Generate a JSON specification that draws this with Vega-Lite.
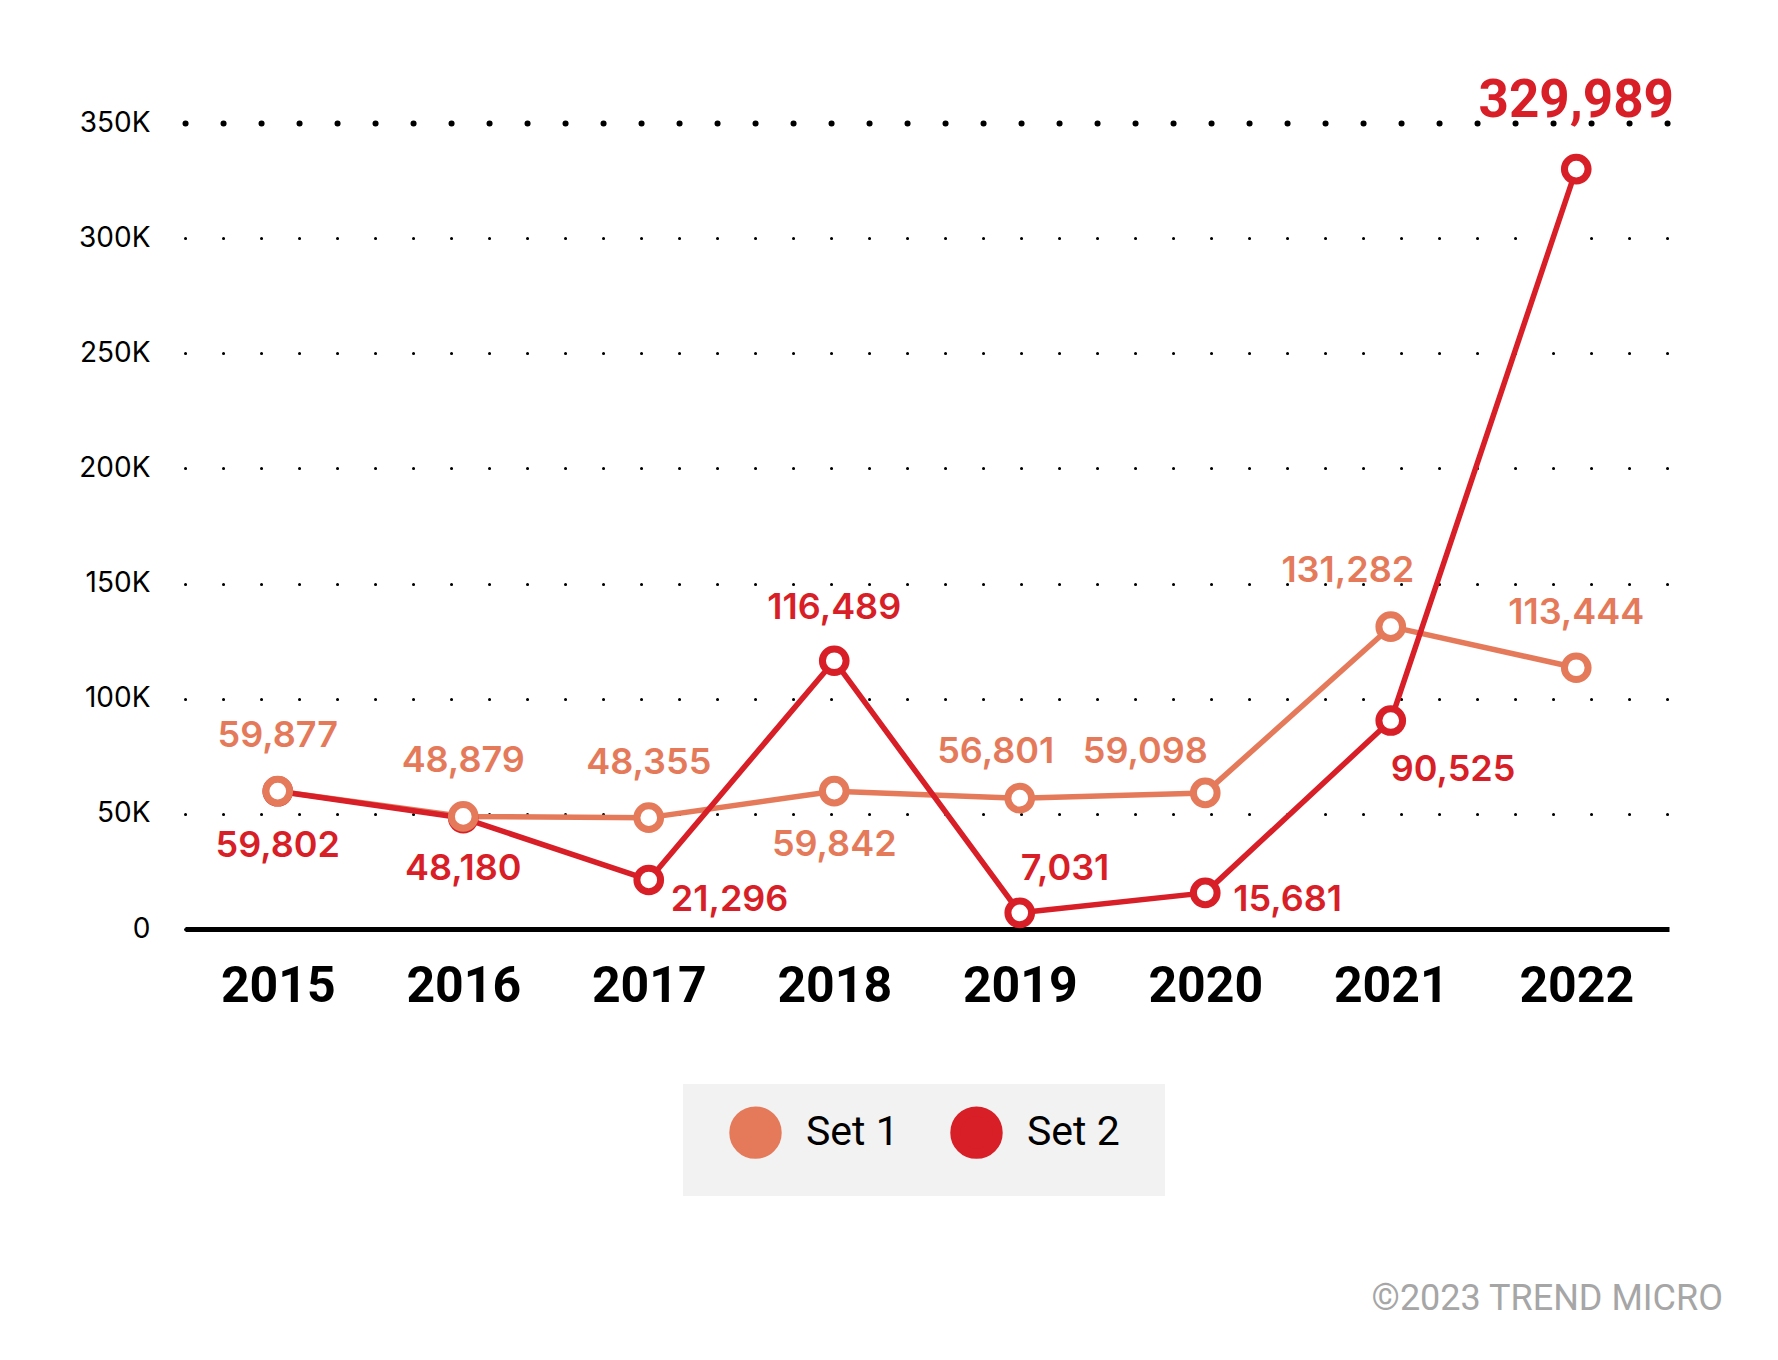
{
  "$schema": "https://vega.github.io/schema/vega-lite/v6.json",
  "autosize": {"type": "none"},
  "padding": {"left": 185, "top": 123, "right": 109, "bottom": 431},
  "width": 1484,
  "height": 806,
  "background": "white",
  "config": {"view": {"stroke": null}},
  "title": {
    "text": "©2023 TREND MICRO",
    "orient": "bottom",
    "anchor": "end",
    "frame": "group",
    "font": "Roboto",
    "fontSize": 36,
    "fontWeight": "normal",
    "color": "#A6A6A6",
    "offset": 86,
    "dx": 54
  },
  "data": {
    "values": [
      {"year": "2015", "series": "Set 1", "value": 59877},
      {"year": "2016", "series": "Set 1", "value": 48879},
      {"year": "2017", "series": "Set 1", "value": 48355},
      {"year": "2018", "series": "Set 1", "value": 59842},
      {"year": "2019", "series": "Set 1", "value": 56801},
      {"year": "2020", "series": "Set 1", "value": 59098},
      {"year": "2021", "series": "Set 1", "value": 131282},
      {"year": "2022", "series": "Set 1", "value": 113444},
      {"year": "2015", "series": "Set 2", "value": 59802},
      {"year": "2016", "series": "Set 2", "value": 48180},
      {"year": "2017", "series": "Set 2", "value": 21296},
      {"year": "2018", "series": "Set 2", "value": 116489},
      {"year": "2019", "series": "Set 2", "value": 7031},
      {"year": "2020", "series": "Set 2", "value": 15681},
      {"year": "2021", "series": "Set 2", "value": 90525},
      {"year": "2022", "series": "Set 2", "value": 329989}
    ]
  },
  "encoding": {
    "x": {
      "field": "year",
      "type": "ordinal",
      "scale": {"type": "point", "padding": 0.5},
      "axis": {
        "title": null,
        "labelAngle": 0,
        "labelFont": "Roboto",
        "labelFontSize": 50,
        "labelFontWeight": "bold",
        "labelColor": "#000000",
        "labelBaseline": "alphabetic",
        "labelPadding": 72,
        "ticks": false,
        "domain": true,
        "domainColor": "#000000",
        "domainWidth": 5,
        "grid": false
      }
    },
    "y": {
      "field": "value",
      "type": "quantitative",
      "scale": {"domain": [0, 350000], "nice": false, "zero": true},
      "axis": {
        "title": null,
        "values": [0, 50000, 100000, 150000, 200000, 250000, 300000, 350000],
        "labelExpr": "datum.value == 0 ? '0' : (datum.value / 1000) + 'K'",
        "labelFont": "Inter",
        "labelFontSize": 28,
        "labelColor": "#000000",
        "labelPadding": 35,
        "ticks": false,
        "domain": false,
        "grid": true,
        "gridColor": "#000000",
        "gridDash": [0.1, 37.9],
        "gridCap": "round",
        "gridWidth": {"condition": {"test": "datum.value == 350000", "value": 6}, "value": 3}
      }
    },
    "stroke": {
      "field": "series",
      "type": "nominal",
      "scale": {"domain": ["Set 1", "Set 2"], "range": ["#E57A5B", "#D81E26"]},
      "legend": {
        "title": "\u00a0",
        "titleOrient": "right",
        "titlePadding": 23,
        "titleFontSize": 10,
        "orient": "none",
        "legendX": 498,
        "legendY": 961,
        "direction": "horizontal",
        "fillColor": "#F2F2F2",
        "padding": 22,
        "columnPadding": 27,
        "symbolType": "circle",
        "symbolSize": 1800,
        "symbolStrokeWidth": 10,
        "symbolFillColor": "#FFFFFF",
        "symbolOffset": 24,
        "labelOffset": 24,
        "labelFont": "Roboto",
        "labelFontSize": 41,
        "labelColor": "#000000"
      }
    }
  },
  "layer": [
    {
      "mark": {"type": "line", "strokeWidth": 5.5, "strokeJoin": "round"}
    },
    {
      "transform": [{"filter": "datum.series == 'Set 2'"}],
      "mark": {"type": "point", "shape": "circle", "size": 560, "strokeWidth": 7, "fill": "#FFFFFF", "filled": false, "opacity": 1}
    },
    {
      "transform": [{"filter": "datum.series == 'Set 1'"}],
      "mark": {"type": "point", "shape": "circle", "size": 560, "strokeWidth": 7, "fill": "#FFFFFF", "filled": false, "opacity": 1}
    },
    {
      "transform": [{"filter": "datum.series == 'Set 1' && indexof(['2015','2016','2017','2022'], datum.year) >= 0"}],
      "mark": {"type": "text", "font": "Inter", "fontSize": 36, "fontWeight": 600, "align": "center", "baseline": "middle", "dy": -55},
      "encoding": {"text": {"field": "value", "type": "quantitative", "format": ","}, "stroke": null, "color": {"field": "series", "type": "nominal", "scale": {"domain": ["Set 1", "Set 2"], "range": ["#E57A5B", "#D81E26"]}, "legend": null}}
    },
    {
      "transform": [{"filter": "datum.series == 'Set 1' && datum.year == '2018'"}],
      "mark": {"type": "text", "font": "Inter", "fontSize": 36, "fontWeight": 600, "align": "center", "baseline": "middle", "dy": 54},
      "encoding": {"text": {"field": "value", "type": "quantitative", "format": ","}, "stroke": null, "color": {"field": "series", "type": "nominal", "scale": {"domain": ["Set 1", "Set 2"], "range": ["#E57A5B", "#D81E26"]}, "legend": null}}
    },
    {
      "transform": [{"filter": "datum.series == 'Set 1' && datum.year == '2019'"}],
      "mark": {"type": "text", "font": "Inter", "fontSize": 36, "fontWeight": 600, "align": "center", "baseline": "middle", "dx": -24, "dy": -46},
      "encoding": {"text": {"field": "value", "type": "quantitative", "format": ","}, "stroke": null, "color": {"field": "series", "type": "nominal", "scale": {"domain": ["Set 1", "Set 2"], "range": ["#E57A5B", "#D81E26"]}, "legend": null}}
    },
    {
      "transform": [{"filter": "datum.series == 'Set 1' && datum.year == '2020'"}],
      "mark": {"type": "text", "font": "Inter", "fontSize": 36, "fontWeight": 600, "align": "center", "baseline": "middle", "dx": -60, "dy": -41},
      "encoding": {"text": {"field": "value", "type": "quantitative", "format": ","}, "stroke": null, "color": {"field": "series", "type": "nominal", "scale": {"domain": ["Set 1", "Set 2"], "range": ["#E57A5B", "#D81E26"]}, "legend": null}}
    },
    {
      "transform": [{"filter": "datum.series == 'Set 1' && datum.year == '2021'"}],
      "mark": {"type": "text", "font": "Inter", "fontSize": 36, "fontWeight": 600, "align": "center", "baseline": "middle", "dx": -43, "dy": -56},
      "encoding": {"text": {"field": "value", "type": "quantitative", "format": ","}, "stroke": null, "color": {"field": "series", "type": "nominal", "scale": {"domain": ["Set 1", "Set 2"], "range": ["#E57A5B", "#D81E26"]}, "legend": null}}
    },
    {
      "transform": [{"filter": "datum.series == 'Set 2' && datum.year == '2015'"}],
      "mark": {"type": "text", "font": "Inter", "fontSize": 36, "fontWeight": 600, "align": "center", "baseline": "middle", "dy": 55},
      "encoding": {"text": {"field": "value", "type": "quantitative", "format": ","}, "stroke": null, "color": {"field": "series", "type": "nominal", "scale": {"domain": ["Set 1", "Set 2"], "range": ["#E57A5B", "#D81E26"]}, "legend": null}}
    },
    {
      "transform": [{"filter": "datum.series == 'Set 2' && datum.year == '2016'"}],
      "mark": {"type": "text", "font": "Inter", "fontSize": 36, "fontWeight": 600, "align": "center", "baseline": "middle", "dy": 51},
      "encoding": {"text": {"field": "value", "type": "quantitative", "format": ","}, "stroke": null, "color": {"field": "series", "type": "nominal", "scale": {"domain": ["Set 1", "Set 2"], "range": ["#E57A5B", "#D81E26"]}, "legend": null}}
    },
    {
      "transform": [{"filter": "datum.series == 'Set 2' && datum.year == '2018'"}],
      "mark": {"type": "text", "font": "Inter", "fontSize": 36, "fontWeight": 600, "align": "center", "baseline": "middle", "dy": -53},
      "encoding": {"text": {"field": "value", "type": "quantitative", "format": ","}, "stroke": null, "color": {"field": "series", "type": "nominal", "scale": {"domain": ["Set 1", "Set 2"], "range": ["#E57A5B", "#D81E26"]}, "legend": null}}
    },
    {
      "transform": [{"filter": "datum.series == 'Set 2' && datum.year == '2017'"}],
      "mark": {"type": "text", "font": "Inter", "fontSize": 36, "fontWeight": 600, "align": "left", "baseline": "middle", "dx": 22, "dy": 20},
      "encoding": {"text": {"field": "value", "type": "quantitative", "format": ","}, "stroke": null, "color": {"field": "series", "type": "nominal", "scale": {"domain": ["Set 1", "Set 2"], "range": ["#E57A5B", "#D81E26"]}, "legend": null}}
    },
    {
      "transform": [{"filter": "datum.series == 'Set 2' && datum.year == '2019'"}],
      "mark": {"type": "text", "font": "Inter", "fontSize": 36, "fontWeight": 600, "align": "left", "baseline": "middle", "dx": 1, "dy": -44},
      "encoding": {"text": {"field": "value", "type": "quantitative", "format": ","}, "stroke": null, "color": {"field": "series", "type": "nominal", "scale": {"domain": ["Set 1", "Set 2"], "range": ["#E57A5B", "#D81E26"]}, "legend": null}}
    },
    {
      "transform": [{"filter": "datum.series == 'Set 2' && datum.year == '2020'"}],
      "mark": {"type": "text", "font": "Inter", "fontSize": 36, "fontWeight": 600, "align": "left", "baseline": "middle", "dx": 28, "dy": 7},
      "encoding": {"text": {"field": "value", "type": "quantitative", "format": ","}, "stroke": null, "color": {"field": "series", "type": "nominal", "scale": {"domain": ["Set 1", "Set 2"], "range": ["#E57A5B", "#D81E26"]}, "legend": null}}
    },
    {
      "transform": [{"filter": "datum.series == 'Set 2' && datum.year == '2021'"}],
      "mark": {"type": "text", "font": "Inter", "fontSize": 36, "fontWeight": 600, "align": "left", "baseline": "middle", "dx": 0, "dy": 49},
      "encoding": {"text": {"field": "value", "type": "quantitative", "format": ","}, "stroke": null, "color": {"field": "series", "type": "nominal", "scale": {"domain": ["Set 1", "Set 2"], "range": ["#E57A5B", "#D81E26"]}, "legend": null}}
    },
    {
      "transform": [{"filter": "datum.series == 'Set 2' && datum.year == '2022'"}],
      "mark": {"type": "text", "font": "Roboto", "fontSize": 53, "fontWeight": "bold", "align": "center", "baseline": "middle", "dy": -68},
      "encoding": {"text": {"field": "value", "type": "quantitative", "format": ","}, "stroke": null, "color": {"field": "series", "type": "nominal", "scale": {"domain": ["Set 1", "Set 2"], "range": ["#E57A5B", "#D81E26"]}, "legend": null}}
    }
  ]
}
